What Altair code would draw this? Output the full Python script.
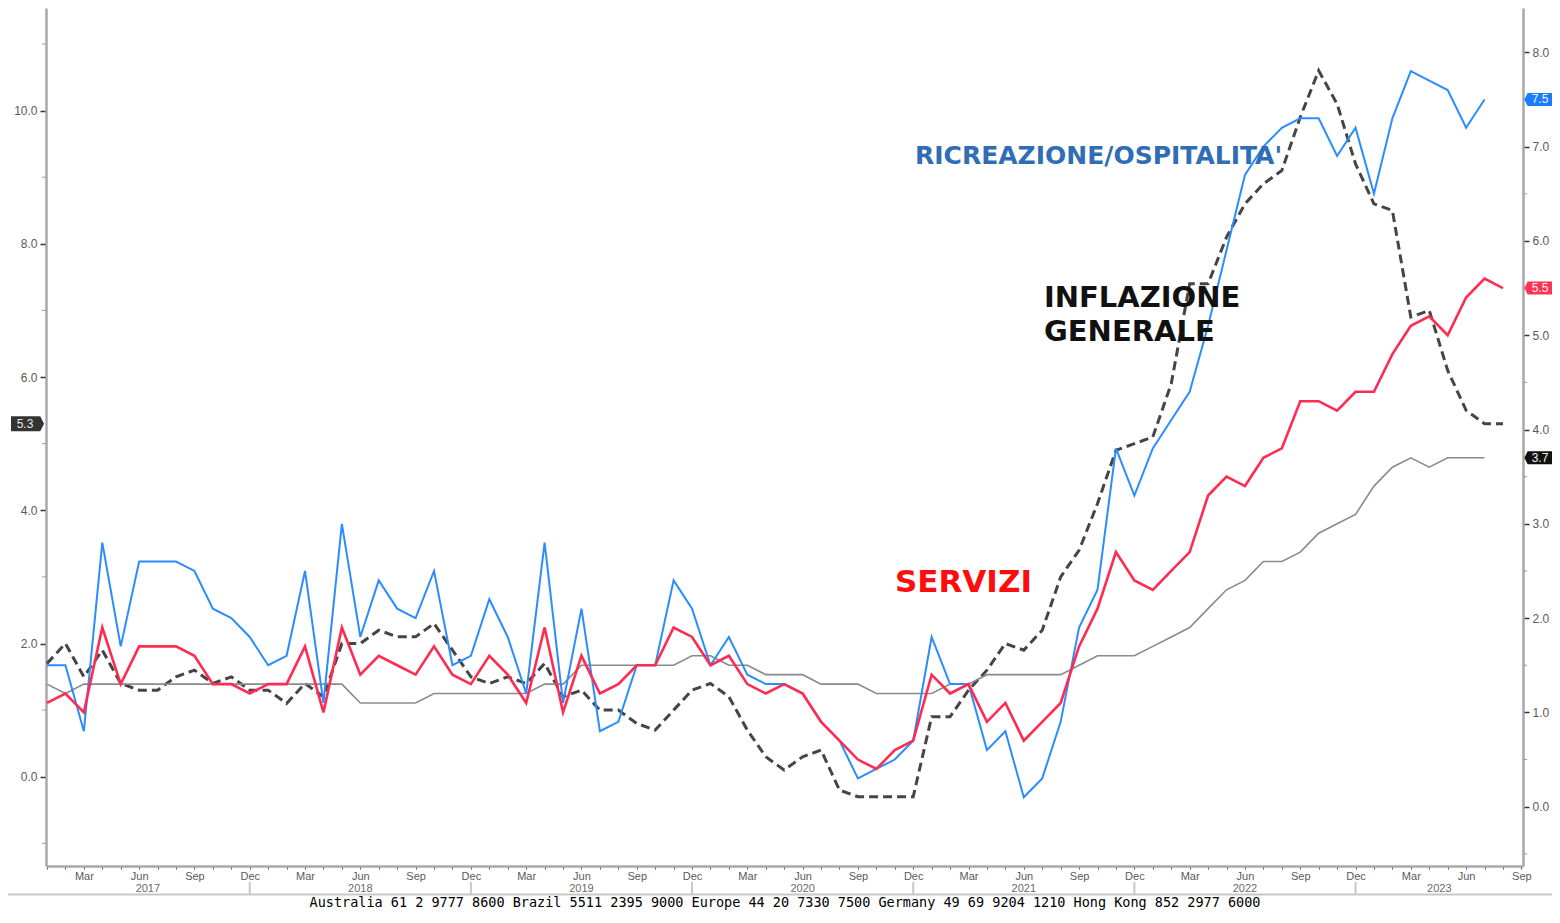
import altair as alt
import pandas as pd

# ---------------- data (monthly, Jan 2017 -> Aug 2023) ----------------
start_year = 2017
n_months = 80
month_names = ["Jan", "Feb", "Mar", "Apr", "May", "Jun", "Jul", "Aug", "Sep", "Oct", "Nov", "Dec"]
months = [f"{start_year + i // 12}-{i % 12 + 1:02d}" for i in range(n_months)]

# Inflazione generale (left axis)
headline = [1.7, 2.0, 1.5, 1.9, 1.4, 1.3, 1.3, 1.5, 1.6, 1.4, 1.5, 1.3,
            1.3, 1.1, 1.4, 1.2, 2.0, 2.0, 2.2, 2.1, 2.1, 2.3, 1.9, 1.5,
            1.4, 1.5, 1.4, 1.7, 1.2, 1.3, 1.0, 1.0, 0.8, 0.7, 1.0, 1.3,
            1.4, 1.2, 0.7, 0.3, 0.1, 0.3, 0.4, -0.2, -0.3, -0.3, -0.3, -0.3,
            0.9, 0.9, 1.3, 1.6, 2.0, 1.9, 2.2, 3.0, 3.4, 4.1, 4.9, 5.0,
            5.1, 5.9, 7.4, 7.4, 8.1, 8.6, 8.9, 9.1, 9.9, 10.6, 10.1, 9.2,
            8.6, 8.5, 6.9, 7.0, 6.1, 5.5, 5.3, 5.3]

# Ricreazione / ospitalita' (right axis)
recreation = [1.5, 1.5, 0.8, 2.8, 1.7, 2.6, 2.6, 2.6, 2.5, 2.1, 2.0, 1.8,
              1.5, 1.6, 2.5, 1.1, 3.0, 1.8, 2.4, 2.1, 2.0, 2.5, 1.5, 1.6,
              2.2, 1.8, 1.2, 2.8, 1.1, 2.1, 0.8, 0.9, 1.5, 1.5, 2.4, 2.1,
              1.5, 1.8, 1.4, 1.3, 1.3, 1.2, 0.9, 0.7, 0.3, 0.4, 0.5, 0.7,
              1.8, 1.3, 1.3, 0.6, 0.8, 0.1, 0.3, 0.9, 1.9, 2.3, 3.8, 3.3,
              3.8, 4.1, 4.4, 5.1, 5.9, 6.7, 7.0, 7.2, 7.3, 7.3, 6.9, 7.2,
              6.5, 7.3, 7.8, 7.7, 7.6, 7.2, 7.5]

# Servizi (right axis)
services = [1.1, 1.2, 1.0, 1.9, 1.3, 1.7, 1.7, 1.7, 1.6, 1.3, 1.3, 1.2,
            1.3, 1.3, 1.7, 1.0, 1.9, 1.4, 1.6, 1.5, 1.4, 1.7, 1.4, 1.3,
            1.6, 1.4, 1.1, 1.9, 1.0, 1.6, 1.2, 1.3, 1.5, 1.5, 1.9, 1.8,
            1.5, 1.6, 1.3, 1.2, 1.3, 1.2, 0.9, 0.7, 0.5, 0.4, 0.6, 0.7,
            1.4, 1.2, 1.3, 0.9, 1.1, 0.7, 0.9, 1.1, 1.7, 2.1, 2.7, 2.4,
            2.3, 2.5, 2.7, 3.3, 3.5, 3.4, 3.7, 3.8, 4.3, 4.3, 4.2, 4.4,
            4.4, 4.8, 5.1, 5.2, 5.0, 5.4, 5.6, 5.5]

# Grey series (right axis)
grey_series = [1.3, 1.2, 1.3, 1.3, 1.3, 1.3, 1.3, 1.3, 1.3, 1.3, 1.3, 1.3,
               1.3, 1.3, 1.3, 1.3, 1.3, 1.1, 1.1, 1.1, 1.1, 1.2, 1.2, 1.2,
               1.2, 1.2, 1.2, 1.3, 1.3, 1.5, 1.5, 1.5, 1.5, 1.5, 1.5, 1.6,
               1.6, 1.5, 1.5, 1.4, 1.4, 1.4, 1.3, 1.3, 1.3, 1.2, 1.2, 1.2,
               1.2, 1.3, 1.3, 1.4, 1.4, 1.4, 1.4, 1.4, 1.5, 1.6, 1.6, 1.6,
               1.7, 1.8, 1.9, 2.1, 2.3, 2.4, 2.6, 2.6, 2.7, 2.9, 3.0, 3.1,
               3.4, 3.6, 3.7, 3.6, 3.7, 3.7, 3.7]

years = [2017, 2018, 2019, 2020, 2021, 2022, 2023]

left_major = [0, 2, 4, 6, 8, 10]
left_minor = [-1, 1, 3, 5, 7, 9, 11]
right_major = [0, 1, 2, 3, 4, 5, 6, 7, 8]
right_minor = [-0.5, 0.5, 1.5, 2.5, 3.5, 4.5, 5.5, 6.5, 7.5]

annotations = ["RICREAZIONE/OSPITALITA'", "INFLAZIONE\nGENERALE", "SERVIZI"]
footer = ("Australia 61 2 9777 8600 Brazil 5511 2395 9000 Europe 44 20 7330 7500 "
          "Germany 49 69 9204 1210 Hong Kong 852 2977 6000")

# ---------------- tables ----------------
def frame(vals):
    return pd.DataFrame({"month": months[:len(vals)], "idx": list(range(len(vals))), "value": vals})

df_head = frame(headline)
df_rec = frame(recreation)
df_srv = frame(services)
df_grey = frame(grey_series)

# ---------------- layout ----------------
W, H = 1477, 858
PAD = {"left": 38, "top": 0, "right": 29, "bottom": 44}   # whole svg: 1544 x 902
PX_PER_MONTH = 18.43
X_MIN = -1 / PX_PER_MONTH
X_MAX = X_MIN + W / PX_PER_MONTH

year_rows = []
for k, yr in enumerate(years):
    lo = max(X_MIN, 12 * k - 1)
    hi = min(X_MAX, 12 * k + 11)
    year_rows.append({"year": str(yr), "center": (lo + hi) / 2})
df_years = pd.DataFrame(year_rows)
df_seps = pd.DataFrame({"sep": [12 * k + 11 for k in range(len(years) - 1)]})
df_lminor = pd.DataFrame({"v": left_minor})
df_rminor = pd.DataFrame({"v": right_minor})

BLUE, RED, GREY, DARK = "#2b8cff", "#ff2b50", "#8a8a8a", "#454545"
df_ends_right = pd.DataFrame({
    "value": [recreation[-1], services[-1], grey_series[-1]],
    "label": [f"{recreation[-1]:.1f}", f"{services[-1]:.1f}", f"{grey_series[-1]:.1f}"],
    "fillc": ["#1a7dff", "#ff3358", "#111111"],
})
df_ends_left = pd.DataFrame({"value": [headline[-1]], "label": [f"{headline[-1]:.1f}"]})

AXFONT = "Liberation Sans"
xs = alt.Scale(domain=[X_MIN, X_MAX], nice=False, zero=False)
ysl = alt.Scale(domain=[-1.34, 11.54], nice=False, zero=False)
ysr = alt.Scale(domain=[-0.629, 8.47], nice=False, zero=False)

month_expr = "''"
for m in (11, 8, 5, 2):
    month_expr = f"datum.value % 12 === {m} ? '{month_names[m]}' : ({month_expr})"

xaxis = alt.Axis(
    values=list(range(0, 81)), title=None, grid=False,
    labelExpr=month_expr,
    tickSize=3, tickColor="#555", tickWidth=1,
    domainColor="#a8a8a8", domainWidth=2.5,
    labelFont=AXFONT, labelFontSize=11, labelColor="#5a5a5a", labelPadding=1,
    labelOverlap=False, labelFlush=False,
)
yaxis_left = alt.Axis(
    orient="left", values=left_major, title=None, grid=False, format=".1f",
    tickSize=6, tickColor="#333", tickWidth=1.5,
    domainColor="#a8a8a8", domainWidth=2.5,
    labelFont=AXFONT, labelFontSize=12, labelColor="#5a5a5a", labelPadding=3,
    labelOverlap=False, labelFlush=False,
)
yaxis_right = alt.Axis(
    orient="right", values=right_major, title=None, grid=False, format=".1f",
    tickSize=6, tickColor="#333", tickWidth=1.5,
    domainColor="#a8a8a8", domainWidth=2.5,
    labelFont=AXFONT, labelFontSize=12, labelColor="#5a5a5a", labelPadding=3,
    labelOverlap=False, labelFlush=False,
)

def X(field):
    # every layer with an x field carries the same axis so the shared axis survives
    return alt.X(field, scale=xs, axis=xaxis)

# ---------------- left-axis layers ----------------
dashed = alt.Chart(df_head).mark_line(color=DARK, strokeWidth=3, strokeDash=[9, 5]).encode(
    x=X("idx:Q"), y=alt.Y("value:Q", scale=ysl, axis=yaxis_left),
)
left_minor_ticks = alt.Chart(df_lminor).mark_rule(color="#9a9a9a", strokeWidth=1).encode(
    y=alt.Y("v:Q", scale=ysl, axis=None), x=alt.value(-4), x2=alt.value(0),
)
left_box = alt.Chart(df_ends_left).mark_point(
    shape="M1.2,0 L0.95,0.5 L-1,0.5 L-1,-0.5 L0.95,-0.5 Z", size=900,
    filled=True, fill="#333333", strokeWidth=0, opacity=1,
).encode(x=alt.value(-20), y=alt.Y("value:Q", scale=ysl, axis=None))
left_box_text = alt.Chart(df_ends_left).mark_text(
    color="#e6e6e6", font=AXFONT, fontSize=12, align="center", baseline="middle",
).encode(x=alt.value(-21), y=alt.Y("value:Q", scale=ysl, axis=None), text="label:N")

# ---------------- right-axis layers ----------------
grey_line = alt.Chart(df_grey).mark_line(color=GREY, strokeWidth=1.6).encode(
    x=X("idx:Q"), y=alt.Y("value:Q", scale=ysr, axis=yaxis_right),
)

def right_line(df, color, width):
    return alt.Chart(df).mark_line(color=color, strokeWidth=width).encode(
        x=X("idx:Q"), y=alt.Y("value:Q", scale=ysr, axis=None),
    )

blue_line = right_line(df_rec, BLUE, 2)
red_line = right_line(df_srv, RED, 2.6)

right_minor_ticks = alt.Chart(df_rminor).mark_rule(color="#9a9a9a", strokeWidth=1).encode(
    y=alt.Y("v:Q", scale=ysr, axis=None), x=alt.value(W), x2=alt.value(W + 4),
)
right_boxes = alt.Chart(df_ends_right).mark_point(
    shape="M-1.2,0 L-0.95,-0.5 L1,-0.5 L1,0.5 L-0.95,0.5 Z", size=676,
    filled=True, strokeWidth=0, opacity=1,
).encode(
    x=alt.value(W + 17),
    y=alt.Y("value:Q", scale=ysr, axis=None),
    fill=alt.Fill("fillc:N", scale=None),
)
right_box_text = alt.Chart(df_ends_right).mark_text(
    color="#f2f2f2", font=AXFONT, fontSize=12, align="center", baseline="middle",
).encode(x=alt.value(W + 17), y=alt.Y("value:Q", scale=ysr, axis=None), text="label:N")

# ---------------- decorations / annotations ----------------
year_text = alt.Chart(df_years).mark_text(
    font=AXFONT, fontSize=11, color="#6a6a6a", baseline="top", align="center",
).encode(x=X("center:Q"), y=alt.value(875), text="year:N")
year_seps = alt.Chart(df_seps).mark_rule(color="#c8c8c8", strokeWidth=2).encode(
    x=X("sep:Q"), y=alt.value(874), y2=alt.value(886.5),
)
footer_df = pd.DataFrame({"t": [footer]})
footer_rule = alt.Chart(footer_df).mark_rule(color="#c8c8c8", strokeWidth=2).encode(
    x=alt.value(-38), x2=alt.value(W + 29), y=alt.value(886.5),
)
footer_text = alt.Chart(footer_df).mark_text(
    font="DejaVu Sans Mono", fontSize=13.5, color="#000", align="center", baseline="alphabetic",
).encode(x=alt.value(739), y=alt.value(898.5), text="t:N")

ann_df = pd.DataFrame({"t": annotations})
ann_rec = alt.Chart(ann_df.iloc[[0]]).mark_text(
    font="DejaVu Sans", fontWeight="bold", fontSize=25, color="#2f6db5",
    align="left", baseline="middle",
).encode(x=alt.value(869), y=alt.value(148), text="t:N")
ann_inf = alt.Chart(ann_df.iloc[[1]]).mark_text(
    font="DejaVu Sans", fontWeight="bold", fontSize=29, color="#111",
    align="left", baseline="middle", lineBreak="\n", lineHeight=34,
).encode(x=alt.value(998), y=alt.value(290), text="t:N")
ann_srv = alt.Chart(ann_df.iloc[[2]]).mark_text(
    font="DejaVu Sans", fontWeight="bold", fontSize=31, color="#ff0d0d",
    align="left", baseline="middle",
).encode(x=alt.value(849), y=alt.value(575), text="t:N")

chart = alt.layer(
    dashed, grey_line, blue_line, red_line,
    left_minor_ticks, right_minor_ticks,
    left_box, left_box_text, right_boxes, right_box_text,
    year_seps, year_text, footer_rule, footer_text,
    ann_rec, ann_inf, ann_srv,
).resolve_scale(y="independent").properties(
    width=W, height=H,
    autosize=alt.AutoSizeParams(type="none"),
    padding=PAD,
    background="white",
).configure_view(stroke=None)

chart.save("out.html", embed_options={"renderer": "svg", "actions": False})
